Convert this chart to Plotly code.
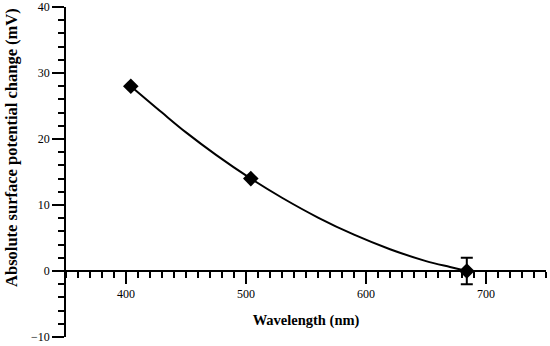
import plotly.graph_objects as go

# measured points
wavelength = [404, 504, 684]
potential = [28, 14, 0]
error = [0, 0, 2]

# fitted curve
fit_wavelength = [404, 430, 450, 475, 504, 530, 560, 590, 620, 650, 670, 684]
fit_potential = [28, 24.0, 21.0, 17.6, 14, 11.1, 8.1, 5.5, 3.3, 1.5, 0.6, 0]

x_range = [350, 750]
y_range = [-10, 40]

x_title = "Wavelength (nm)"
y_title = "Absolute surface potential change (mV)"

font_family = "Liberation Serif"

fig = go.Figure()
fig.add_trace(go.Scatter(
    x=fit_wavelength, y=fit_potential, mode="lines",
    line=dict(color="black", width=2, shape="spline", smoothing=1.0),
    hoverinfo="skip", showlegend=False))
fig.add_trace(go.Scatter(
    x=wavelength, y=potential, mode="markers",
    marker=dict(symbol="diamond", size=12, color="black"),
    error_y=dict(type="data", array=error, visible=True, color="black",
                 thickness=2, width=6),
    showlegend=False))

fig.update_layout(
    width=550, height=346,
    margin=dict(l=66, r=4, t=7, b=9),
    plot_bgcolor="white", paper_bgcolor="white",
    font=dict(family=font_family, color="black", size=12),
    xaxis=dict(range=x_range, tick0=400, dtick=100, automargin=False,
               showgrid=False, zeroline=False, showline=True, linecolor="black", linewidth=1.5,
               ticks="outside", ticklen=12, tickwidth=1.5, tickcolor="black",
               minor=dict(tick0=400, dtick=10, ticks="outside", ticklen=6, tickwidth=1.5,
                          tickcolor="black", showgrid=False),
               anchor="free", position=0.2, ticklabeloverflow="allow",
               tickfont=dict(family=font_family, size=12, color="black"),
               title=dict(text="<b>" + x_title + "</b>", font=dict(family=font_family, size=14.5, color="black"), standoff=14)),
    yaxis=dict(range=y_range, tick0=0, dtick=10, automargin=False,
               showgrid=False, zeroline=False, showline=True, linecolor="black", linewidth=1.5,
               ticks="outside", ticklen=12, tickwidth=1.5, tickcolor="black",
               minor=dict(tick0=0, dtick=2, ticks="outside", ticklen=6, tickwidth=1.5,
                          tickcolor="black", showgrid=False),
               ticklabeloverflow="allow",
               tickfont=dict(family=font_family, size=12, color="black")),
)

fig.add_annotation(text="<b>" + y_title + "</b>", textangle=-90,
                   xref="paper", yref="paper", x=-0.1125, y=0.573,
                   xanchor="center", yanchor="middle", showarrow=False,
                   font=dict(family=font_family, size=16.5, color="black"))

fig.write_html("out.html", post_script="document.body.style.margin='0';",
               config={"displayModeBar": False})
